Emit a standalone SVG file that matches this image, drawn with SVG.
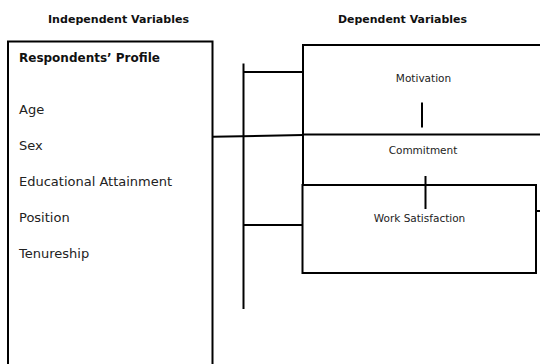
<svg xmlns="http://www.w3.org/2000/svg" width="540" height="364" viewBox="0 0 540 364">
<style>
.box{fill:none;stroke:#000;stroke-width:2}
.ln{fill:none;stroke:#000;stroke-width:2}
.hd{font-family:"DejaVu Sans",Verdana,sans-serif;font-weight:bold;font-size:10.5px;fill:#111;text-anchor:middle}
.pt{font-family:"DejaVu Sans",Verdana,sans-serif;font-weight:bold;font-size:12px;fill:#111}
.it{font-family:"DejaVu Sans",Verdana,sans-serif;font-size:13px;fill:#222}
.dv{font-family:"DejaVu Sans",Verdana,sans-serif;font-size:10.5px;fill:#222;text-anchor:middle}
</style>
<rect width="540" height="364" fill="#fff"/>
<g id="headers">
<text class="hd" x="118.5" y="22.5" textLength="141" lengthAdjust="spacingAndGlyphs">Independent Variables</text>
<text class="hd" x="402.5" y="22.5" textLength="129" lengthAdjust="spacingAndGlyphs">Dependent Variables</text>
</g>
<g id="respondents-profile">
<path class="box" d="M8,365 V41.5 H212.5 V365"/>
<text class="pt" x="19" y="61.5">Respondents’ Profile</text>
<text class="it" x="19" y="114">Age</text>
<text class="it" x="19" y="150">Sex</text>
<text class="it" x="19" y="186">Educational Attainment</text>
<text class="it" x="19" y="222">Position</text>
<text class="it" x="19" y="258">Tenureship</text>
</g>
<g id="motivation">
<path class="box" d="M541,45 H303 V134.5 H541"/>
<text class="dv" x="423.5" y="82">Motivation</text>
</g>
<g id="commitment">
<path class="box" d="M303,134.5 V185"/>
<text class="dv" x="423" y="154">Commitment</text>
</g>
<g id="work-satisfaction">
<rect class="box" x="302.5" y="185" width="233.5" height="88"/>
<text class="dv" x="419.5" y="221.5">Work Satisfaction</text>
</g>
<g id="connectors">
<path class="ln" d="M243.5,63.5 V309"/>
<path class="ln" d="M243.5,72 H303"/>
<path class="ln" d="M243.5,225 H302.5"/>
<path class="ln" d="M212.5,136.7 L303,135"/>
<path class="ln" d="M422,102.5 V127.5"/>
<path class="ln" d="M425.5,176 V209"/>
<path class="ln" d="M536,211 H541"/>
</g>
</svg>
